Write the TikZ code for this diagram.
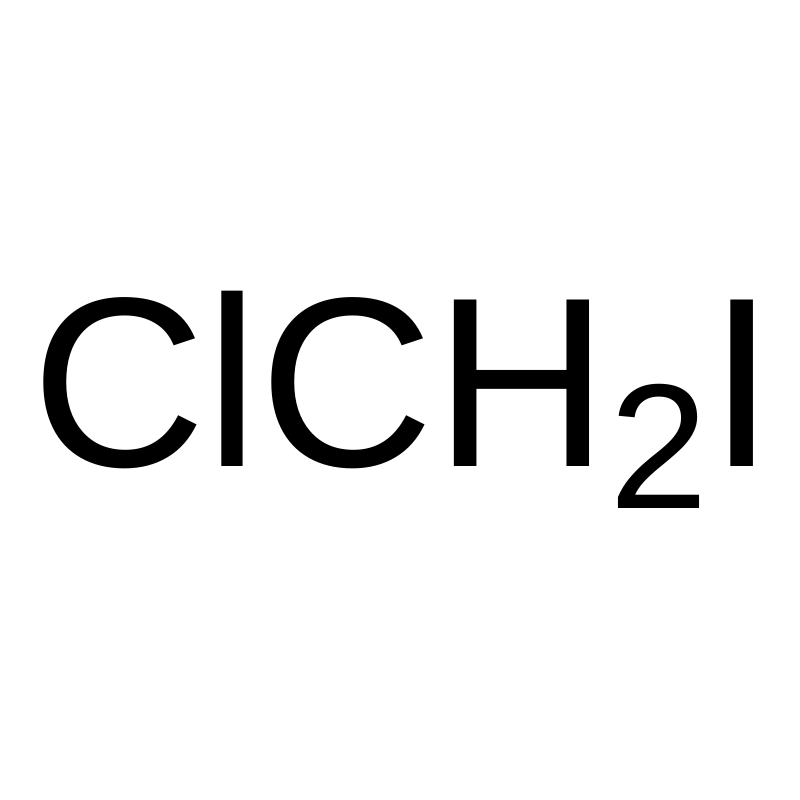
\documentclass[tikz,border=0pt]{standalone}
\usepackage{fontspec}
\setmainfont{Liberation Sans}
\begin{document}
\begin{tikzpicture}[x=1pt,y=1pt,
  formula/.style={inner sep=0pt, outer sep=0pt, anchor=base west, font=\fontsize{242}{242}\selectfont}]
\useasboundingbox (0,0) rectangle (800,800);
\fill[white] (0,0) rectangle (800,800);
\node[formula] (f) at (31.2,333) {ClCH\raisebox{-42pt}{\fontsize{178}{178}\selectfont 2}I};
\end{tikzpicture}
\end{document}
